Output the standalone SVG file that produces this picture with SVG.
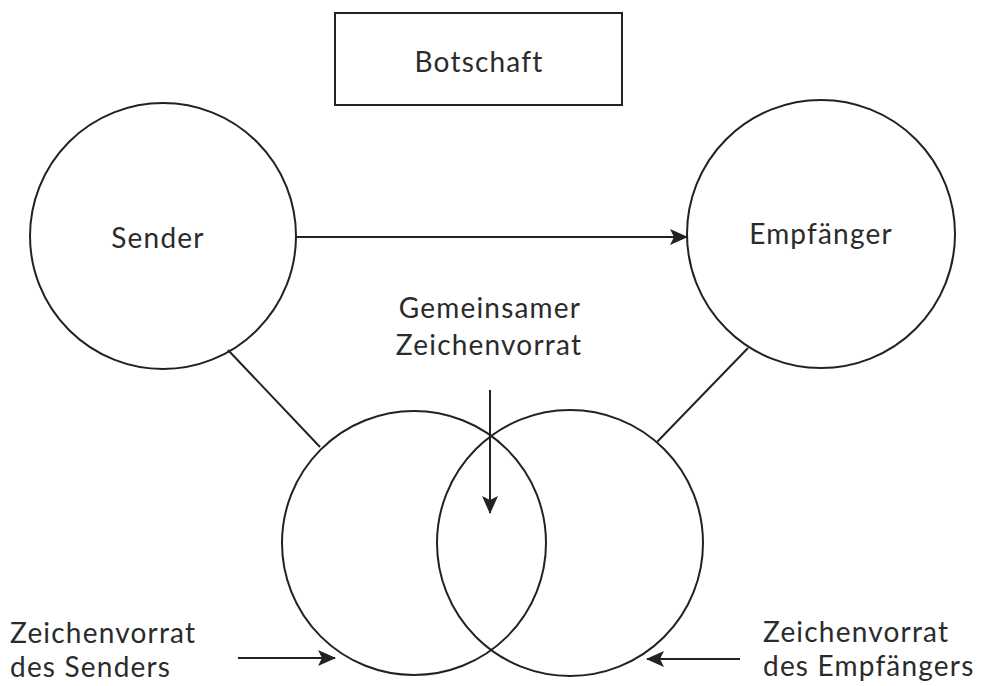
<svg xmlns="http://www.w3.org/2000/svg" width="981" height="686" viewBox="0 0 981 686">
<style>
.shape{fill:#fff;stroke:#222;stroke-width:2}
.conn{fill:none;stroke:#222;stroke-width:2}
.lbl{font-family:Lato,"Open Sans",sans-serif;font-size:28px;letter-spacing:1.2px;fill:#2b2b2b}
.mid{text-anchor:middle}
</style>
<defs>
<marker id="ah" markerUnits="userSpaceOnUse" markerWidth="18" markerHeight="16" viewBox="0 0 18 16" refX="17" refY="8" orient="auto">
<path d="M0,0 L18,8 L0,16 L4,8 z" fill="#222"/>
</marker>
</defs>
<rect width="981" height="686" fill="#fff"/>
<g id="botschaft">
<rect class="shape" x="335" y="13" width="287" height="92"/>
<text class="lbl mid" x="479" y="72">Botschaft</text>
</g>
<g id="sender">
<circle class="shape" cx="163" cy="236" r="133"/>
<text class="lbl mid" x="158" y="248">Sender</text>
</g>
<g id="empfaenger">
<circle class="shape" cx="821" cy="234" r="134"/>
<text class="lbl mid" x="821" y="244">Empfänger</text>
</g>
<g id="zeichenvorrat-sender">
<circle class="shape" cx="414" cy="543" r="132"/>
</g>
<g id="zeichenvorrat-empfaenger">
<circle cx="570" cy="543" r="133" fill="none" stroke="#222" stroke-width="2"/>
</g>
<g id="labels">
<text class="lbl mid" x="490" y="318">Gemeinsamer</text>
<text class="lbl mid" x="489" y="355">Zeichenvorrat</text>
<text class="lbl" x="10" y="643">Zeichenvorrat</text>
<text class="lbl" x="10" y="677">des Senders</text>
<text class="lbl" x="763" y="642">Zeichenvorrat</text>
<text class="lbl" x="763" y="676">des Empfängers</text>
</g>
<g id="connectors">
<line class="conn" x1="296" y1="237" x2="687" y2="237" marker-end="url(#ah)"/>
<line class="conn" x1="228" y1="350" x2="320" y2="447"/>
<line class="conn" x1="748" y1="348" x2="657" y2="442"/>
<line class="conn" x1="490" y1="390" x2="490" y2="513" marker-end="url(#ah)"/>
<line class="conn" x1="238" y1="658" x2="335" y2="658" marker-end="url(#ah)"/>
<line class="conn" x1="740" y1="659" x2="647" y2="659" marker-end="url(#ah)"/>
</g>
</svg>
